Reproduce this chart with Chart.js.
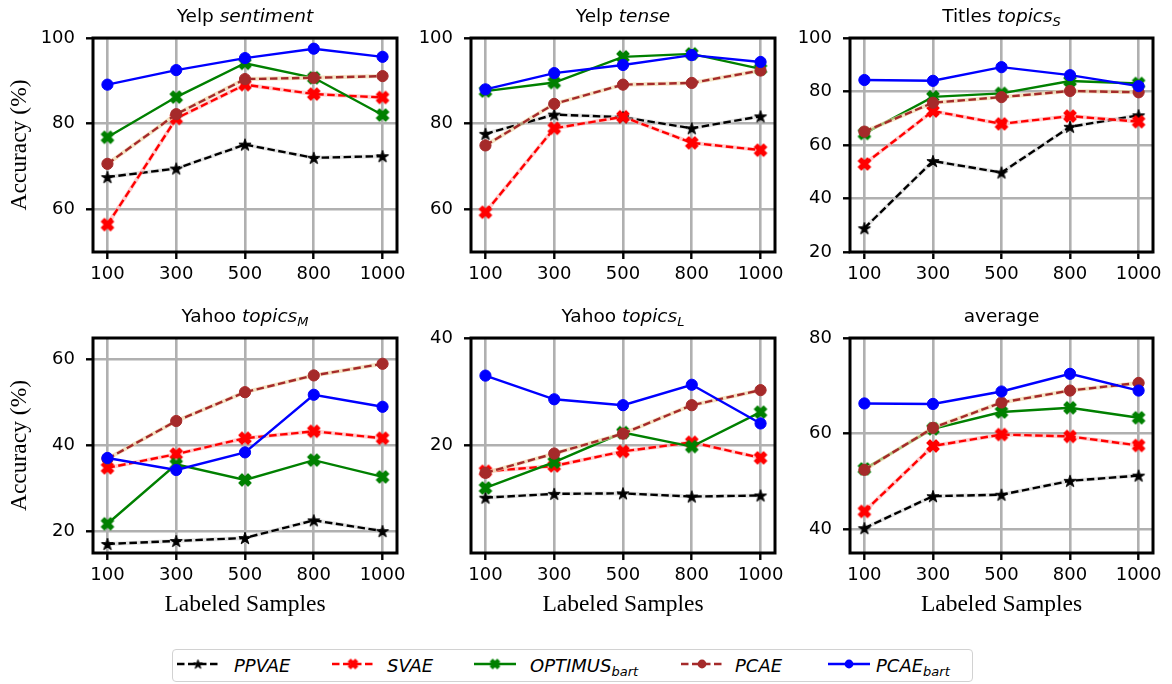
<!DOCTYPE html>
<html>
<head>
<meta charset="utf-8">
<script src="https://cdn.jsdelivr.net/npm/chart.js@4.4.1/dist/chart.umd.min.js"></script>
<style>
html, body { margin: 0; padding: 0; background: #fff; }
body { width: 1172px; height: 684px; position: relative; overflow: hidden; }
canvas.panel { position: absolute; }
#legendBox { position: absolute; left: 172px; top: 649px; width: 801px; height: 33px; border: 1.5px solid #d2d2d2; border-radius: 4px; box-sizing: border-box; }
.ltxt { position: absolute; top: 656px; font-family: "DejaVu Sans"; font-style: italic; font-size: 18px; line-height: 20px; color: #000; white-space: nowrap; }
.ltxt sub { font-size: 13px; vertical-align: -4px; line-height: 0; }
canvas.lsample { position: absolute; }
</style>
</head>
<body>
<canvas id="p1" class="panel"></canvas>
<canvas id="p2" class="panel"></canvas>
<canvas id="p3" class="panel"></canvas>
<canvas id="p4" class="panel"></canvas>
<canvas id="p5" class="panel"></canvas>
<canvas id="p6" class="panel"></canvas>
<div id="legendBox"></div>
<script>
// ---------------- data ----------------
const samples = ['100', '300', '500', '800', '1000'];
const methods = ['PPVAE', 'SVAE', 'OPTIMUS', 'PCAE', 'PCAE'];
const methodSubs = ['', '', 'bart', '', 'bart'];

// rows follow `methods` order: PPVAE, SVAE, OPTIMUS_bart, PCAE, PCAE_bart
const yelpSentiment = [
  [67.5, 69.5, 75.1, 72.0, 72.4],
  [56.4, 81.2, 89.1, 86.9, 86.1],
  [76.8, 86.2, 94.1, 90.7, 82.0],
  [70.6, 82.2, 90.4, 90.7, 91.1],
  [89.1, 92.5, 95.3, 97.5, 95.6]
];
const yelpTense = [
  [77.6, 82.1, 81.5, 78.9, 81.7],
  [59.3, 78.9, 81.6, 75.5, 73.8],
  [87.6, 89.6, 95.6, 96.3, 92.8],
  [74.9, 84.6, 89.1, 89.5, 92.4],
  [88.0, 91.8, 93.7, 96.0, 94.4]
];
const titlesTopicsS = [
  [28.9, 54.0, 49.7, 66.8, 71.1],
  [52.9, 72.7, 67.9, 70.8, 68.7],
  [64.3, 78.0, 79.3, 83.9, 83.0],
  [65.0, 75.8, 77.9, 80.2, 79.7],
  [84.3, 84.0, 89.1, 86.1, 82.0]
];
const yahooTopicsM = [
  [17.1, 17.8, 18.5, 22.6, 20.1],
  [34.8, 38.0, 41.7, 43.3, 41.7],
  [21.8, 35.6, 32.0, 36.6, 32.7],
  [36.9, 45.7, 52.4, 56.3, 59.0],
  [37.1, 34.3, 38.4, 51.8, 49.0]
];
const yahooTopicsL = [
  [10.3, 11.0, 11.1, 10.5, 10.7],
  [15.2, 16.2, 18.9, 20.6, 17.7],
  [12.1, 16.9, 22.4, 19.8, 26.2],
  [14.9, 18.5, 22.2, 27.5, 30.3],
  [33.0, 28.6, 27.5, 31.3, 24.1]
];
const average = [
  [40.2, 46.9, 47.2, 50.1, 51.2],
  [43.7, 57.4, 59.8, 59.4, 57.5],
  [52.6, 61.0, 64.5, 65.4, 63.3],
  [52.4, 61.2, 66.5, 69.0, 70.6],
  [66.3, 66.2, 68.8, 72.5, 69.0]
];

const ticksYelp = [60, 80, 100];
const ticksTitles = [20, 40, 60, 80, 100];
const ticksYahooM = [20, 40, 60];
const ticksYahooL = [20, 40];
const ticksAverage = [40, 60, 80];

// ---------------- markers ----------------
function starCanvas(color, r) {
  const s = Math.ceil(r * 2 + 3);
  const c = document.createElement('canvas'); c.width = c.height = s;
  const g = c.getContext('2d');
  g.translate(s / 2, s / 2 + r * 0.1);
  g.beginPath();
  for (let i = 0; i < 10; i++) {
    const rr = i % 2 ? r * 0.381966 : r;
    const a = -Math.PI / 2 + i * Math.PI / 5;
    g.lineTo(rr * Math.cos(a), rr * Math.sin(a));
  }
  g.closePath();
  g.fillStyle = color; g.fill();
  g.lineWidth = 1; g.strokeStyle = color; g.stroke();
  return c;
}
function xCanvas(color, r) {
  const s = Math.ceil(r * 2 + 3);
  const c = document.createElement('canvas'); c.width = c.height = s;
  const g = c.getContext('2d');
  g.translate(s / 2, s / 2);
  g.rotate(Math.PI / 4);
  const pts = [[-1,-3],[1,-3],[1,-1],[3,-1],[3,1],[1,1],[1,3],[-1,3],[-1,1],[-3,1],[-3,-1],[-1,-1]];
  const k = r / 3;
  g.beginPath();
  pts.forEach(p => g.lineTo(p[0] * k, p[1] * k));
  g.closePath();
  g.fillStyle = color; g.fill();
  g.lineWidth = 1.2; g.lineJoin = 'round'; g.strokeStyle = color; g.stroke();
  return c;
}
function circleCanvas(color, r) {
  const s = Math.ceil(r * 2 + 3);
  const c = document.createElement('canvas'); c.width = c.height = s;
  const g = c.getContext('2d');
  g.beginPath(); g.arc(s / 2, s / 2, r, 0, Math.PI * 2);
  g.fillStyle = color; g.fill();
  return c;
}

const styles = [
  { color: '#000000', dash: [7.5, 3.5], halo: 'rgba(205,205,205,0.55)', marker: starCanvas('#000000', 6.4), lmarker: starCanvas('#000000', 4.8) },
  { color: '#ff0000', dash: [7.5, 3.5], halo: 'rgba(255,175,175,0.6)', marker: xCanvas('#ff0000', 6.4), lmarker: xCanvas('#ff0000', 4.8) },
  { color: '#008000', dash: [], halo: null, marker: xCanvas('#008000', 6.4), lmarker: xCanvas('#008000', 4.8) },
  { color: '#a52a2a', dash: [7.5, 3.5], halo: 'rgba(240,215,170,0.7)', marker: 'circle', lmarker: circleCanvas('#a52a2a', 4.4) },
  { color: '#0000ff', dash: [], halo: null, marker: 'circle', lmarker: circleCanvas('#0000ff', 4.4) }
];

// ---------------- plugins ----------------
const richTitle = {
  id: 'richTitle',
  afterDraw(chart, args, opts) {
    const segs = opts.segments; if (!segs) return;
    const { ctx, chartArea: a } = chart;
    const font = s => (s[1] >= 1 ? 'italic ' : '') + (s[1] === 2 ? 13 : 18.5) + 'px "DejaVu Sans"';
    ctx.save();
    ctx.fillStyle = '#000'; ctx.textBaseline = 'alphabetic'; ctx.textAlign = 'left';
    let total = 0;
    const widths = segs.map(s => { ctx.font = font(s); const w = ctx.measureText(s[0]).width; total += w; return w; });
    let x = (a.left + a.right) / 2 - total / 2;
    const y = a.top - opts.gap;
    segs.forEach((s, i) => { ctx.font = font(s); ctx.fillText(s[0], x, y + (s[1] === 2 ? 4 : 0)); x += widths[i]; });
    ctx.restore();
  }
};
const frame = {
  id: 'frame',
  afterDatasetsDraw(chart) {
    const { ctx, chartArea: a } = chart;
    ctx.save();
    ctx.strokeStyle = '#000'; ctx.lineWidth = 3;
    ctx.strokeRect(a.left, a.top, a.right - a.left, a.bottom - a.top);
    ctx.restore();
  }
};

// ---------------- panels ----------------
const panels = [
  { id: 'p1', data: yelpSentiment, title: [['Yelp ', 0], ['sentiment', 1]], yMin: 50, yMax: 100, yTicks: ticksYelp,
    left: 0, top: 0, w: 420, h: 300, yW: 93, padR: 23, xH: 48, yTitle: true, xTitle: false },
  { id: 'p2', data: yelpTense, title: [['Yelp ', 0], ['tense', 1]], yMin: 50, yMax: 100, yTicks: ticksYelp,
    left: 400, top: 0, w: 400, h: 300, yW: 71, padR: 25, xH: 48, yTitle: false, xTitle: false },
  { id: 'p3', data: titlesTopicsS, title: [['Titles ', 0], ['topics', 1], ['S', 2]], yMin: 20, yMax: 100, yTicks: ticksTitles,
    left: 780, top: 0, w: 392, h: 300, yW: 70, padR: 19, xH: 48, yTitle: false, xTitle: false },
  { id: 'p4', data: yahooTopicsM, title: [['Yahoo ', 0], ['topics', 1], ['M', 2]], yMin: 15, yMax: 65, yTicks: ticksYahooM,
    left: 0, top: 300, w: 420, h: 330, yW: 93, padR: 23, xH: 77, yTitle: true, xTitle: true },
  { id: 'p5', data: yahooTopicsL, title: [['Yahoo ', 0], ['topics', 1], ['L', 2]], yMin: 0, yMax: 40, yTicks: ticksYahooL,
    left: 400, top: 300, w: 400, h: 330, yW: 71, padR: 25, xH: 77, yTitle: false, xTitle: true },
  { id: 'p6', data: average, title: [['average', 0]], yMin: 35, yMax: 80, yTicks: ticksAverage,
    left: 780, top: 300, w: 392, h: 330, yW: 70, padR: 19, xH: 77, yTitle: false, xTitle: true }
];

const tickFont = { family: 'DejaVu Sans', size: 18 };
const serifFont = { family: 'Liberation Serif', size: 23.5 };
const gridOpts = { color: '#b0b0b0', lineWidth: 2.6, tickColor: '#000', tickWidth: 2.4, tickLength: 7, drawTicks: true };

panels.forEach(p => {
  const cv = document.getElementById(p.id);
  cv.width = p.w; cv.height = p.h;
  cv.style.left = p.left + 'px'; cv.style.top = p.top + 'px';
  const datasets = [];
  p.data.forEach((vals, k) => {
    const st = styles[k];
    const pts = vals.map((v, i) => ({ x: i, y: v }));
    if (st.halo) {
      datasets.push({ data: pts, borderColor: st.halo, borderWidth: 4, pointRadius: 0, fill: false, order: 20 - 2 * k });
    }
    datasets.push({
      label: methods[k] + methodSubs[k], data: pts,
      borderColor: st.color, backgroundColor: st.color, borderWidth: 2.4, borderDash: st.dash,
      pointStyle: st.marker, pointRadius: 5.6, pointBorderWidth: 1,
      pointBackgroundColor: st.color, pointBorderColor: st.color,
      fill: false, tension: 0, order: 19 - 2 * k
    });
  });
  new Chart(cv, {
    type: 'line',
    data: { datasets },
    options: {
      responsive: false, animation: false, events: [],
      layout: { padding: { top: 38, right: p.padR, left: 0, bottom: 0 } },
      plugins: { legend: { display: false }, tooltip: { enabled: false }, title: { display: false },
                 richTitle: { segments: p.title, gap: 16.5 } },
      scales: {
        x: {
          type: 'linear', min: -0.21, max: 4.21,
          afterBuildTicks: s => { s.ticks = samples.map((_, i) => ({ value: i })); },
          ticks: { callback: v => samples[v], font: tickFont, color: '#000', padding: 5, maxRotation: 0, autoSkip: false },
          grid: gridOpts, border: { display: false },
          title: { display: p.xTitle, text: 'Labeled Samples', font: serifFont, color: '#000', padding: { top: 0, bottom: 11 } },
          afterFit: s => { s.height = p.xH; s.paddingLeft = 0; s.paddingRight = 0; }
        },
        y: {
          type: 'linear', min: p.yMin, max: p.yMax,
          afterBuildTicks: s => { s.ticks = p.yTicks.map(v => ({ value: v })); },
          ticks: { font: tickFont, color: '#000', padding: 11 },
          grid: gridOpts, border: { display: false },
          title: { display: p.yTitle, text: 'Accuracy (%)', font: serifFont, color: '#000', padding: { top: 6, bottom: 0 } },
          afterFit: s => { s.width = p.yW; s.paddingTop = 0; s.paddingBottom = 0; }
        }
      }
    },
    plugins: [richTitle, frame]
  });
});

// ---------------- legend ----------------
const legendPos = [
  { line: 177, text: 234 },
  { line: 332, text: 387 },
  { line: 474, text: 530 },
  { line: 681, text: 735 },
  { line: 828, text: 876 }
];
styles.forEach((st, k) => {
  const c = document.createElement('canvas');
  c.className = 'lsample'; c.width = 42; c.height = 20;
  c.style.left = legendPos[k].line + 'px'; c.style.top = '654px';
  document.body.appendChild(c);
  const g = c.getContext('2d');
  g.strokeStyle = st.color; g.lineWidth = 2.4; g.setLineDash(st.dash);
  g.beginPath(); g.moveTo(0, 10); g.lineTo(42, 10); g.stroke();
  const m = st.lmarker;
  g.drawImage(m, 21 - m.width / 2, 10 - m.height / 2);
  const t = document.createElement('div');
  t.className = 'ltxt'; t.style.left = legendPos[k].text + 'px';
  t.textContent = methods[k];
  if (methodSubs[k]) { const sb = document.createElement('sub'); sb.textContent = methodSubs[k]; t.appendChild(sb); }
  document.body.appendChild(t);
});
</script>
</body>
</html>
